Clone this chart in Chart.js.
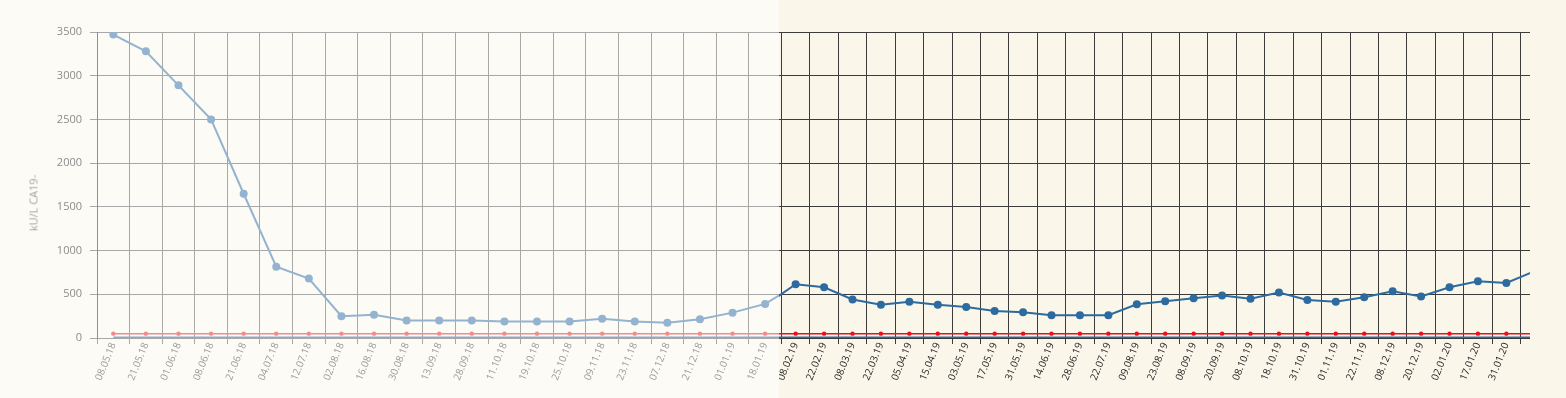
<!DOCTYPE html>
<html>
<head>
<meta charset="utf-8">
<script src="https://cdn.jsdelivr.net/npm/chart.js@4.4.1/dist/chart.umd.min.js"></script>
<style>
    html, body { margin: 0; padding: 0; }
    body { width: 1566px; height: 398px; position: relative; overflow: hidden; background: #fdfbf5; font-family: "Open Sans", sans-serif; }
    #past { position: absolute; left: 0; top: 0; width: 779px; height: 398px; overflow: hidden; background: #fdfbf5; }
    #pastBox { position: absolute; left: 0; top: 0; width: 814px; height: 398px; }
    #recent { position: absolute; left: 779px; top: 0; width: 787px; height: 398px; background: #faf7ea; }
    #recentClip { position: absolute; left: 0; top: 0; width: 751px; height: 398px; overflow: hidden; }
    #recentBox { position: absolute; left: -26px; top: 0; width: 796px; height: 398px; }
    #yTitle { position: absolute; left: 33px; top: 203px; transform: translate(-50%, -50%) rotate(-90deg); font-size: 11px; font-weight: 400; color: #a3a3a3; white-space: nowrap; }
</style>
</head>
<body>
<div id="past"><div id="pastBox"><canvas id="pastChart"></canvas></div></div>
<div id="recent"><div id="recentClip"><div id="recentBox"><canvas id="recentChart"></canvas></div></div></div>
<div id="yTitle">kU/L CA19-</div>
<script>
// measurement dates (last one lies past the visible window, label unknown)
const dates = [
    '08.05.18', '21.05.18', '01.06.18', '08.06.18', '21.06.18', '04.07.18', '12.07.18',
    '02.08.18', '16.08.18', '30.08.18', '13.09.18', '28.09.18', '11.10.18', '19.10.18',
    '25.10.18', '09.11.18', '23.11.18', '07.12.18', '21.12.18', '01.01.19', '18.01.19',
    '08.02.19', '22.02.19', '08.03.19', '22.03.19', '05.04.19', '15.04.19', '03.05.19',
    '17.05.19', '31.05.19', '14.06.19', '28.06.19', '22.07.19', '09.08.19', '23.08.19',
    '08.09.19', '20.09.19', '08.10.19', '18.10.19', '31.10.19', '01.11.19', '22.11.19',
    '08.12.19', '20.12.19', '02.01.20', '17.01.20', '31.01.20', ''
];
const ca199 = [
    3470, 3280, 2890, 2500, 1650, 815, 680,
    250, 265, 200, 200, 200, 190, 190,
    190, 220, 190, 175, 215, 290, 390,
    615, 580, 440, 380, 415, 380, 355,
    310, 295, 260, 260, 260, 385, 420,
    455, 485, 450, 520, 435, 415, 465,
    535, 475, 580, 650, 630, 765
];
const upperLimit = 50;
const yTicks = { min: 0, max: 3500, step: 500 };

// the older part is drawn faded, the recent part in full colour
// each window holds one neighbour point on the side that is cut off
const pastStart = 0, pastEnd = 22, pastShown = [0, 20];
const recentStart = 20, recentEnd = dates.length, recentShown = [1, 26];

function buildChart(canvasId, from, to, shown, colors, showYLabels) {
    const labels = dates.slice(from, to);
    const values = ca199.slice(from, to);
    const ctx = document.getElementById(canvasId).getContext('2d');
    return new Chart(ctx, {
        type: 'line',
        data: {
            labels: labels,
            datasets: [
                {
                    label: 'CA19-9',
                    data: values,
                    borderColor: colors.line,
                    backgroundColor: colors.line,
                    pointBackgroundColor: colors.line,
                    pointBorderWidth: 0,
                    pointRadius: 4,
                    borderWidth: 2,
                    tension: 0,
                    order: 0
                },
                {
                    label: 'limit',
                    data: labels.map(() => upperLimit),
                    borderColor: colors.limit,
                    backgroundColor: colors.limit,
                    pointBackgroundColor: colors.limit,
                    pointBorderWidth: 0,
                    pointRadius: 2.2,
                    borderWidth: 1.5,
                    order: 1
                },
                {
                    label: 'base',
                    data: labels.map(() => 0),
                    borderColor: colors.base,
                    pointRadius: 0,
                    borderWidth: 3,
                    order: 2
                }
            ]
        },
        options: {
            responsive: true,
            maintainAspectRatio: false,
            animation: false,
            events: [],
            layout: { autoPadding: false, padding: { top: 32, left: 0, right: 0, bottom: 0 } },
            plugins: { legend: { display: false }, tooltip: { enabled: false } },
            scales: {
                x: {
                    offset: true,
                    grid: { offset: true, color: colors.grid, tickLength: 6, lineWidth: 1 },
                    border: { display: false },
                    ticks: {
                        autoSkip: false,
                        minRotation: 68,
                        maxRotation: 68,
                        padding: -3,
                        color: colors.text,
                        font: { family: 'Open Sans', size: 10 },
                        callback: function (value, index) {
                            return (index >= shown[0] && index <= shown[1]) ? this.getLabelForValue(value) : '';
                        }
                    },
                    afterFit: (scale) => {
                        scale.height = 60;
                        scale.paddingLeft = 0;
                        scale.paddingRight = 0;
                    }
                },
                y: {
                    min: yTicks.min,
                    max: yTicks.max,
                    grid: { color: colors.grid, drawTicks: showYLabels, tickLength: 7 },
                    border: { display: showYLabels, color: '#8f8f8f' },
                    ticks: {
                        display: showYLabels,
                        stepSize: yTicks.step,
                        padding: 8,
                        color: '#8c8c8c',
                        font: { family: 'Open Sans', size: 11 },
                        callback: (value) => String(value)
                    },
                    afterFit: (scale) => { scale.width = showYLabels ? 97 : 0; }
                }
            }
        }
    });
}

document.addEventListener('DOMContentLoaded', () => {
    buildChart('pastChart', pastStart, pastEnd, pastShown, {
        line: '#93b3d0', limit: '#f28c8c', base: '#8aaccc', grid: '#a8a8a8', text: '#9a9a9a'
    }, true);
    buildChart('recentChart', recentStart, recentEnd, recentShown, {
        line: '#2d6a9f', limit: '#e8101c', base: '#2d6a9f', grid: '#3c3c3c', text: '#1e1e1e'
    }, false);
});
</script>
</body>
</html>
